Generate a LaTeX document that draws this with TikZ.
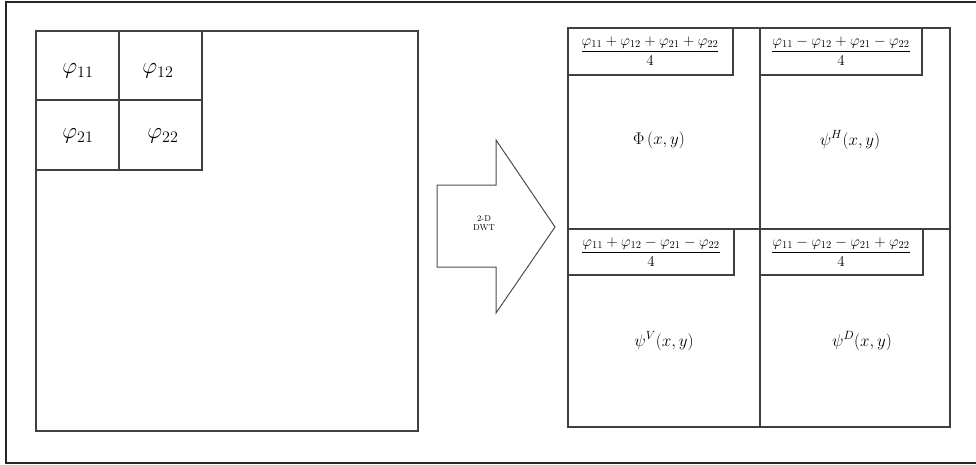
\RequirePackage{fix-cm}
\documentclass[tikz,border=0pt]{standalone}
\usepackage{amsmath}
\begin{document}
\begin{tikzpicture}[x=1pt,y=-1pt,
  box/.style={draw=black!75,line width=1.3pt},
  frame/.style={draw=black!85,line width=1.8pt},
  cell/.style={font=\fontsize{23}{26}\selectfont},
  fn/.style={font=\fontsize{17}{20}\selectfont},
  frac/.style={font=\fontsize{15}{17}\selectfont},
  small/.style={font=\fontsize{8.5}{9}\selectfont,align=center}]
\useasboundingbox (0,0) rectangle (976,464);
% outer frame (open at right)
\draw[frame] (976,2) -- (6,2) -- (6,463) -- (976,463);
% left image
\draw[box] (36,31) rectangle (418,431);
\draw[box] (36,100) -- (202,100);
\draw[box] (202,31) -- (202,170) -- (36,170);
\draw[box] (119,31) -- (119,170);
\node[cell] (p11) at (78,71) {$\varphi_{11}$};
\node[cell] (p12) at (158,71) {$\varphi_{12}$};
\node[cell] (p21) at (78,136) {$\varphi_{21}$};
\node[cell] (p22) at (163,136) {$\varphi_{22}$};
% arrow
\draw[draw=black!70,line width=1pt] (437,185) -- (496,185) -- (496,140) -- (555,227) -- (496,313) -- (496,267) -- (437,267) -- cycle;
\node[small] (dwt) at (484,223) {2-D\\DWT};
% right image
\draw[box] (568,28) rectangle (950,427);
\draw[box] (760,28) -- (760,427);
\draw[box] (568,229) -- (950,229);
\draw[box] (568,28) rectangle (733,75);
\draw[box] (760,28) rectangle (922,75);
\draw[box] (568,229) rectangle (734,275);
\draw[box] (760,229) rectangle (923,275);
\node[frac] (f1) at (650,51) {$\dfrac{\varphi_{11}+\varphi_{12}+\varphi_{21}+\varphi_{22}}{4}$};
\node[frac] (f2) at (841,51) {$\dfrac{\varphi_{11}-\varphi_{12}+\varphi_{21}-\varphi_{22}}{4}$};
\node[frac] (f3) at (651,252) {$\dfrac{\varphi_{11}+\varphi_{12}-\varphi_{21}-\varphi_{22}}{4}$};
\node[frac] (f4) at (841,252) {$\dfrac{\varphi_{11}-\varphi_{12}-\varphi_{21}+\varphi_{22}}{4}$};
\node[fn] (phi) at (659,140) {$\Phi\,(x,y)$};
\node[fn] (psiH) at (850,140) {$\psi^{H}(x,y)$};
\node[fn] (psiV) at (664,341) {$\psi^{V}(x,y)$};
\node[fn] (psiD) at (862,341) {$\psi^{D}(x,y)$};
\end{tikzpicture}
\end{document}
